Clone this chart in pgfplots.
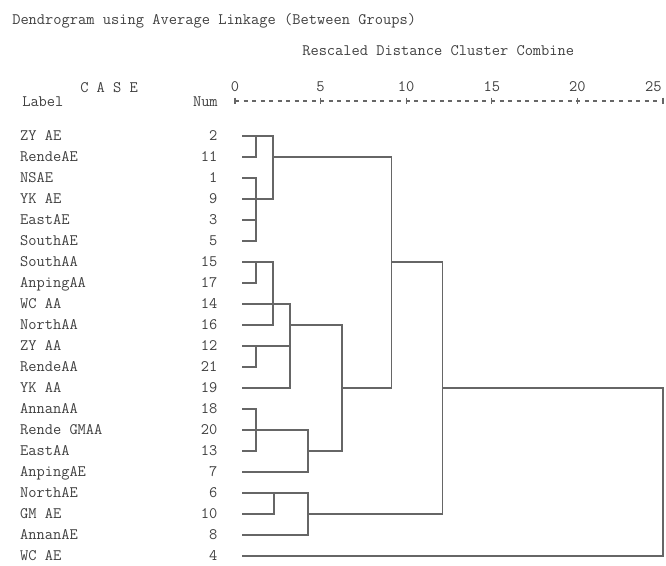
\documentclass[border=0pt]{standalone}
\usepackage{pgfplots}
\pgfplotsset{compat=1.18}
\definecolor{txt}{gray}{0.25}
\definecolor{ln}{gray}{0.40}
\newcommand\sfont{\ttfamily\fontsize{12}{14}\selectfont}
\newcommand\lab[2]{\makebox[148pt]{#1\hfill #2}}
\newcommand\pxy[2]{({#1*0.75pt},{(566-#2)*0.75pt})}
\begin{document}
\begin{tikzpicture}
\begin{axis}[
  at={(176.25pt,0pt)}, anchor=south west,
  scale only axis, width=321pt, height=348.75pt,
  xmin=0, xmax=25, ymin=-21.476, ymax=0.667,
  clip=false,
  axis x line*=top, axis y line*=left,
  y axis line style={draw=none},
  x axis line style={ln, line width=0.8pt, dash pattern=on 3pt off 3.4pt, -},
  tick align=center, major tick length=5pt,
  xtick={0,5,10,15,20,25},
  xticklabels={0,5,10,15,20,{\makebox[0pt][r]{25\hspace{1pt}}}},
  xtick style={ln, line width=0.8pt, solid},
  ytick style={draw=none},
  /pgf/number format/assume math mode=true,
  xticklabel style={font=\sfont, text=txt, anchor=base, inner sep=0pt, yshift=4.5pt},
  ytick={-1,-2,-3,-4,-5,-6,-7,-8,-9,-10,-11,-12,-13,-14,-15,-16,-17,-18,-19,-20,-21},
  yticklabels={
    {\lab{ZY AE}{2}},{\lab{RendeAE}{11}},{\lab{NSAE}{1}},{\lab{YK AE}{9}},
    {\lab{EastAE}{3}},{\lab{SouthAE}{5}},{\lab{SouthAA}{15}},{\lab{AnpingAA}{17}},
    {\lab{WC AA}{14}},{\lab{NorthAA}{16}},{\lab{ZY AA}{12}},{\lab{RendeAA}{21}},
    {\lab{YK AA}{19}},{\lab{AnnanAA}{18}},{\lab{Rende GMAA}{20}},{\lab{EastAA}{13}},
    {\lab{AnpingAE}{7}},{\lab{NorthAE}{6}},{\lab{GM AE}{10}},{\lab{AnnanAE}{8}},
    {\lab{WC AE}{4}}},
  yticklabel style={font=\sfont, text=txt, anchor=base east, inner sep=0pt, yshift=-3.7pt, xshift=-10.5pt},
]
\addplot[no marks, ln, line width=1pt, line cap=rect, empty line=jump] table {
x y
0.47 -1
2.22 -1

0.47 -2
1.23 -2

1.23 -1
1.23 -2

0.47 -3
1.23 -3

0.47 -4
2.22 -4

0.47 -5
1.23 -5

0.47 -6
1.23 -6

1.23 -3
1.23 -6

2.22 -1
2.22 -4

2.22 -2
9.15 -2

0.47 -7
2.22 -7

0.47 -8
1.23 -8

1.23 -7
1.23 -8

2.22 -7
2.22 -10

0.47 -9
3.21 -9

0.47 -10
2.22 -10

0.47 -11
3.21 -11

0.47 -12
1.23 -12

1.23 -11
1.23 -12

0.47 -13
3.21 -13

3.21 -9
3.21 -13

3.21 -10
6.25 -10

0.47 -14
1.23 -14

0.47 -15
4.26 -15

0.47 -16
1.23 -16

1.23 -14
1.23 -16

0.47 -17
4.26 -17

4.26 -15
4.26 -17

4.26 -16
6.25 -16

6.25 -10
6.25 -16

6.25 -13
9.15 -13

9.15 -2
9.15 -13

9.15 -7
12.12 -7

0.47 -18
4.26 -18

0.47 -19
2.28 -19

2.28 -18
2.28 -19

0.47 -20
4.26 -20

4.26 -18
4.26 -20

4.26 -19
12.12 -19

12.12 -7
12.12 -19

12.12 -13
25 -13

25 -13
25 -21

0.47 -21
25 -21
};
\end{axis}
\begin{scope}[every node/.style={font=\sfont, text=txt, inner sep=0pt}]
\node[anchor=base west] at \pxy{12}{25} {Dendrogram using Average Linkage (Between Groups)};
\node[anchor=base west] at \pxy{302}{56} {Rescaled Distance Cluster Combine};
\node[anchor=base west] at \pxy{80}{93} {C A S E};
\node[anchor=base west] at \pxy{22}{107} {Label};
\node[anchor=base east] at \pxy{218}{107} {Num};
\end{scope}
\pgfresetboundingbox
\path[use as bounding box] (0,0) rectangle (499.5pt,424.5pt);
\end{tikzpicture}
\end{document}
